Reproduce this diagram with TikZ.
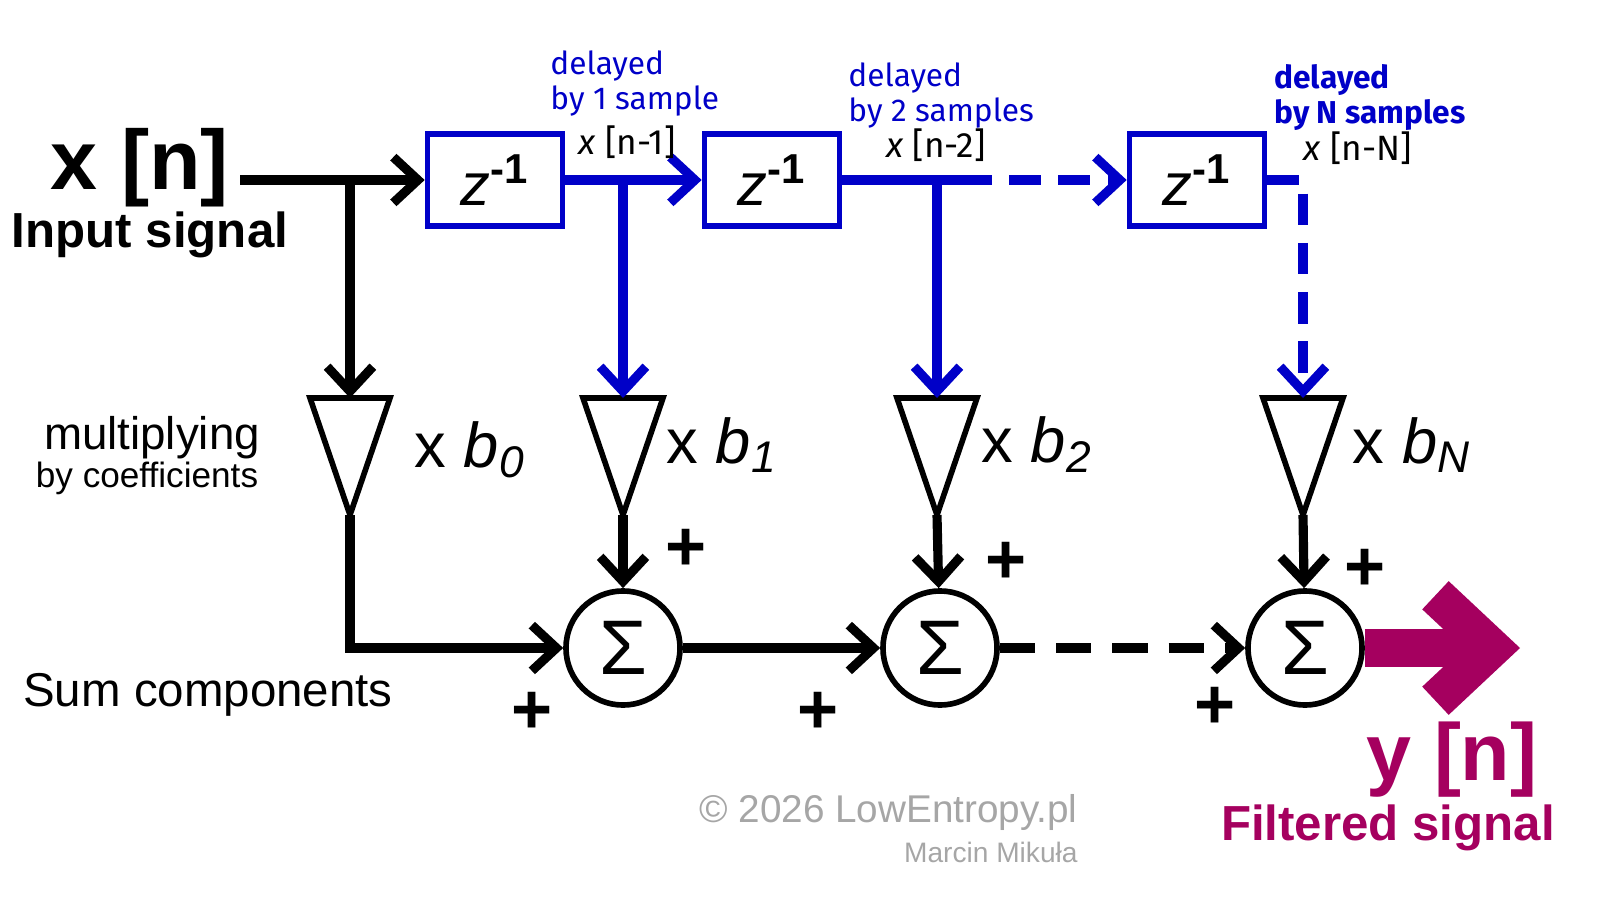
\documentclass[tikz,border=0pt]{standalone}
\usepackage{fontspec}
\setmainfont{Liberation Sans}
\newfontfamily\ubu{Fira Sans}
\usetikzlibrary{arrows.meta}
\definecolor{dblue}{RGB}{0,0,200}
\definecolor{outmag}{RGB}{165,0,95}
\tikzset{
  sig/.style={line width=2.6pt, -{Straight Barb[length=7pt,width=13pt]}},
  delay/.style={draw=dblue, line width=1.6pt, minimum width=1.35cm, minimum height=0.92cm, inner sep=0pt, font=\fontsize{17}{17}\selectfont\itshape},
  summ/.style={circle, draw, line width=1.6pt, minimum size=1.14cm, inner sep=0pt, font=\fontsize{22}{22}\selectfont},
  pls/.style={font=\fontsize{20}{20}\selectfont\bfseries},
  lbl/.style={font=\ubu\fontsize{9}{10}\selectfont, text=dblue, align=left, anchor=north west},
  tap/.style={font=\ubu\fontsize{10}{10}\selectfont}
}
\begin{document}
\begin{tikzpicture}[x=0.01cm, y=-0.01cm]
  \useasboundingbox (0,0) rectangle (1600,900);
  % input
  \node[font=\fontsize{24}{24}\selectfont\bfseries] (xin) at (140,168) {x [n]};
  \node[font=\fontsize{14}{14}\selectfont\bfseries] (insig) at (150,235) {Input signal};
  \coordinate (inl) at (240,180);
  \coordinate (br0) at (350,180);
  % delay blocks
  \node[delay] (z1) at (495,180) {z\textsuperscript{\upshape\bfseries -1}};
  \node[delay] (z2) at (772,180) {z\textsuperscript{\upshape\bfseries -1}};
  \node[delay] (zN) at (1197,180) {z\textsuperscript{\upshape\bfseries -1}};
  \coordinate (br1) at (623,180);
  \coordinate (br2) at (937,180);
  \coordinate (dsh) at (960,180);
  % triangles
  \foreach \nm/\x in {0/350,1/623,2/937,N/1303} {
    \coordinate (t\nm) at (\x,398);
    \coordinate (b\nm) at (\x,515);
    \draw[line width=1.6pt, line join=miter] (\x-40,398) -- (\x+40,398) -- (\x,515) -- cycle;
  }
  \node[font=\fontsize{18}{18}\selectfont] at (470,450) {x \textit{b\textsubscript{0}}};
  \node[font=\fontsize{18}{18}\selectfont] at (722,445) {x \textit{b\textsubscript{1}}};
  \node[font=\fontsize{18}{18}\selectfont] at (1037,445) {x \textit{b\textsubscript{2}}};
  \node[font=\fontsize{18}{18}\selectfont] at (1412,445) {x \textit{b\textsubscript{N}}};
  % sums
  \node[summ] (s1) at (623,648) {Σ};
  \node[summ] (s2) at (940,648) {Σ};
  \node[summ] (sN) at (1305,648) {Σ};
  \coordinate (yout) at (1520,648);
  % connections
  \draw[sig] (inl) -- (z1);
  \draw[sig] (br0) -- (t0);
  \draw[sig, dblue] (z1) -- (z2);
  \draw[sig, dblue] (br1) -- (t1);
  \draw[line width=2.6pt, dblue] (z2.east) -- (dsh);
  \draw[sig, dblue, dash pattern=on 9pt off 5pt] (dsh) -- (zN);
  \draw[sig, dblue] (br2) -- (t2);
  \draw[sig, dblue, dash pattern=on 9pt off 5pt] (zN.east) -| (tN);
  \draw[sig] (b0) |- (s1);
  \foreach \nm/\s in {1/s1,2/s2,N/sN} \draw[sig] (b\nm) -- (\s);
  \draw[sig] (s1) -- (s2);
  \draw[sig, dash pattern=on 10pt off 6pt] (s2) -- (sN);
  \draw[line width=11pt, outmag, -{Straight Barb[length=16pt,width=30pt]}] (sN.east) -- (yout);
  % plus signs
  \node[pls] at (686,550) {+};
  \node[pls] at (1006,563) {+};
  \node[pls] at (1365,570) {+};
  \node[pls] at (532,713) {+};
  \node[pls] at (818,713) {+};
  \node[pls] at (1215,708) {+};
  % texts
  \node[font=\fontsize{13}{13}\selectfont] at (152,438) {multiplying};
  \node[font=\fontsize{10}{10}\selectfont] at (147,478) {by coefficients};
  \node[font=\fontsize{13.5}{13.5}\selectfont] at (208,695) {Sum components};
  \node[lbl] at (538,38) {delayed\\by 1 sample};
  \node[lbl] at (836,50) {delayed\\by 2 samples};
  \node[lbl, font=\ubu\bfseries\fontsize{9}{10}\selectfont] at (1262,52) {delayed\\by N samples};
  \node[tap] at (627,142) {\textit{x} [n-1]};
  \node[tap] at (936,145) {\textit{x} [n-2]};
  \node[tap] at (1358,148) {\textit{x} [n-N]};
  \node[font=\fontsize{23}{23}\selectfont\bfseries, outmag] at (1452,760) {y [n]};
  \node[font=\fontsize{14}{14}\selectfont\bfseries, outmag] at (1388,828) {Filtered signal};
  \node[font=\fontsize{11}{11}\selectfont, gray!70, anchor=east] at (1090,812) {\textcopyright{} 2026 LowEntropy.pl};
  \node[font=\fontsize{8}{8}\selectfont, gray!70, anchor=east] at (1090,852) {Marcin Mikuła};
\end{tikzpicture}
\end{document}
